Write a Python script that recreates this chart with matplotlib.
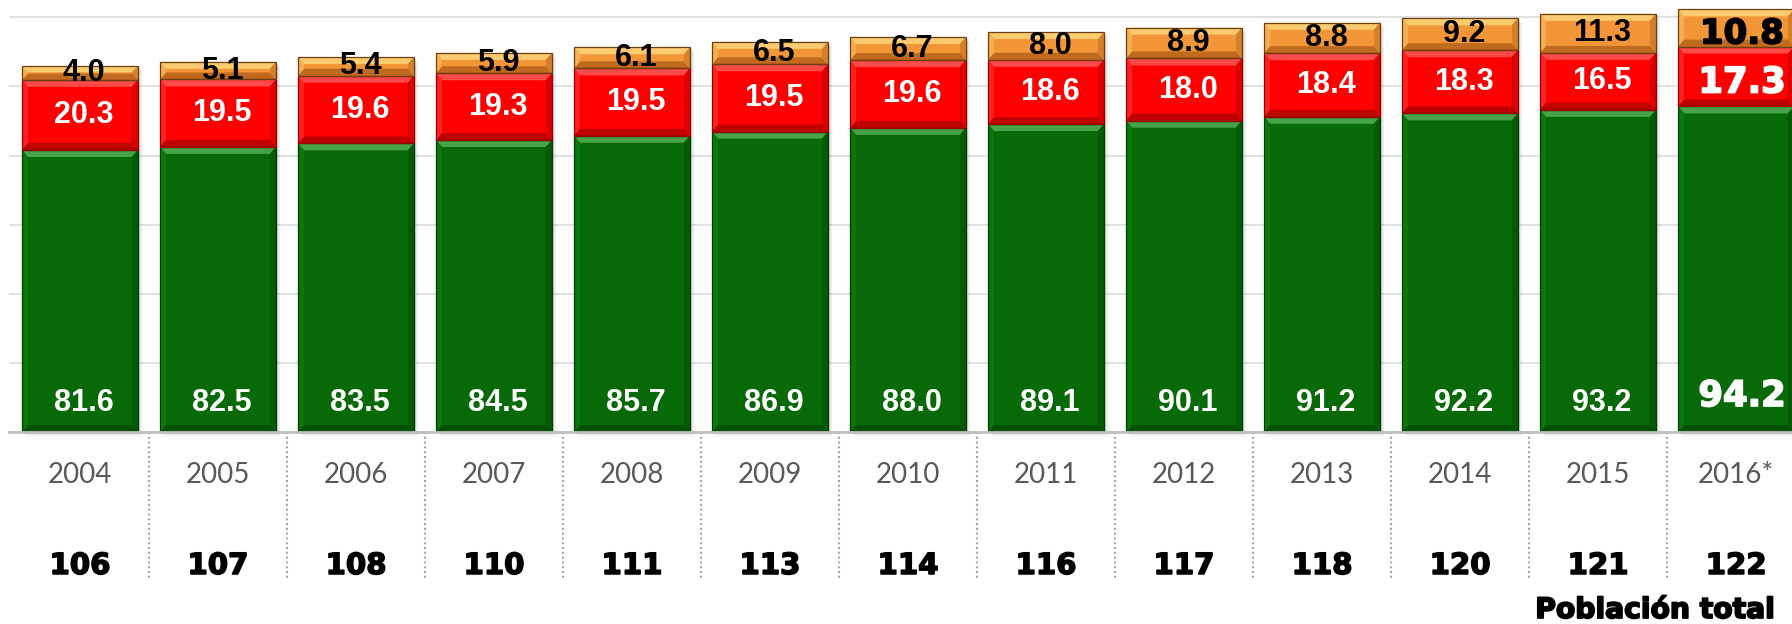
import numpy as np
import matplotlib
matplotlib.use('Agg')
import matplotlib.pyplot as plt
import matplotlib.patheffects as pe
from matplotlib.patches import Polygon, Rectangle

# Datos (millones de personas)
anios = ['2004', '2005', '2006', '2007', '2008', '2009', '2010',
         '2011', '2012', '2013', '2014', '2015', '2016*']
verde = [81.6, 82.5, 83.5, 84.5, 85.7, 86.9, 88.0, 89.1, 90.1, 91.2, 92.2, 93.2, 94.2]
rojo = [20.3, 19.5, 19.6, 19.3, 19.5, 19.5, 19.6, 18.6, 18.0, 18.4, 18.3, 16.5, 17.3]
naranja = [4.0, 5.1, 5.4, 5.9, 6.1, 6.5, 6.7, 8.0, 8.9, 8.8, 9.2, 11.3, 10.8]
poblacion = [106, 107, 108, 110, 111, 113, 114, 116, 117, 118, 120, 121, 122]

W, H = 1792, 624
fig = plt.figure(figsize=(W / 100, H / 100), dpi=100)
ax_l, ax_b, ax_h = 9, 192, 432
ax = fig.add_axes([ax_l / W, ax_b / H, (W - ax_l) / W, ax_h / H])

xmin, xmax = -0.514, 12.406
ymax = 125
ax.set_xlim(xmin, xmax)
ax.set_ylim(0, ymax)

# pixel -> data
px_x = (xmax - xmin) / (W - ax_l)
px_y = ymax / ax_h

x = np.arange(len(anios))
ancho = 0.84
base2 = np.array(verde)
base3 = base2 + np.array(rojo)
total = base3 + np.array(naranja)

# colores: base, arriba, abajo, izq, der, borde
estilos = {
    'verde': ('#076A07', '#48A348', '#045004', '#0C780C', '#055A05', '#033B03'),
    'rojo': ('#FF0000', '#FF4A4A', '#BE0000', '#FF2020', '#DC0000', '#960000'),
    'naranja': ('#F29638', '#FCCB70', '#BF6A1E', '#F7AE52', '#D67F2A', '#6A4010'),
}

# sombra
for k, a in [(4, 0.10), (2, 0.16)]:
    ax.bar(x + k * px_x, total, ancho, bottom=-k * px_y, color='#555555',
           alpha=a, zorder=1.5, clip_on=False, linewidth=0)


def bevel(patch, st):
    x0, y0 = patch.get_xy()
    x1 = x0 + patch.get_width()
    y1 = y0 + patch.get_height()
    bx = 6 * px_x
    by = min(7 * px_y, (y1 - y0) / 2.2)
    caras = [
        ([(x0, y1), (x1, y1), (x1 - bx, y1 - by), (x0 + bx, y1 - by)], st[1]),
        ([(x0, y0), (x1, y0), (x1 - bx, y0 + by), (x0 + bx, y0 + by)], st[2]),
        ([(x0, y0), (x0, y1), (x0 + bx, y1 - by), (x0 + bx, y0 + by)], st[3]),
        ([(x1, y0), (x1, y1), (x1 - bx, y1 - by), (x1 - bx, y0 + by)], st[4]),
    ]
    for pts, c in caras:
        ax.add_patch(Polygon(pts, closed=True, facecolor=c, edgecolor='none', zorder=3.1))
    ax.add_patch(Rectangle((x0, y0), x1 - x0, y1 - y0, facecolor='none',
                           edgecolor=st[5], linewidth=0.9, zorder=3.2))


series = [(verde, 0, 'verde'), (rojo, base2, 'rojo'), (naranja, base3, 'naranja')]
for vals, bottom, nombre in series:
    st = estilos[nombre]
    bars = ax.bar(x, vals, ancho, bottom=bottom, color=st[0], linewidth=0, zorder=3)
    for p in bars:
        bevel(p, st)


def grueso(color, w=1.0):
    # engrosa el trazo para imitar una fuente tipo "Black"
    return [pe.Stroke(linewidth=w, foreground=color), pe.Normal()]


# etiquetas de valores
for i in range(len(anios)):
    ultimo = i == len(anios) - 1
    if ultimo:
        fam, fs, fs_n, dx, dy, gy = 'DejaVu Sans', 25.5, 24.5, 6, -6, 10.4
        ef_b, ef_n = grueso('white', 1.2), grueso('black', 1.2)
    else:
        fam, fs, fs_n, dx, dy, gy = 'Liberation Sans', 22, 22, 4, 0, 8.4
        ef_b, ef_n = None, None
    ax.annotate('%.1f' % verde[i], (x[i], gy),
                xytext=(dx, 0), textcoords='offset pixels', ha='center', va='center',
                color='white', fontsize=fs, fontweight='bold', family=fam, zorder=5,
                path_effects=ef_b)
    ax.annotate('%.1f' % rojo[i], (x[i], base2[i] + rojo[i] / 2),
                xytext=(dx, dy), textcoords='offset pixels', ha='center', va='center',
                color='white', fontsize=fs, fontweight='bold', family=fam, zorder=5,
                path_effects=ef_b)
    ax.annotate('%.1f' % naranja[i], (x[i], base3[i] + naranja[i] / 2),
                xytext=(dx, dy), textcoords='offset pixels', ha='center', va='center',
                color='black', fontsize=fs_n, fontweight='bold', family=fam, zorder=5,
                path_effects=ef_n)

# ejes y rejilla
ax.set_yticks(range(0, 121, 20))
ax.yaxis.grid(True, color='#D9D9D9', linewidth=1.1)
ax.set_axisbelow(True)
ax.tick_params(axis='y', length=0, labelleft=False)
for s in ['left', 'right', 'top']:
    ax.spines[s].set_visible(False)
ax.spines['bottom'].set_color('#BFBFBF')
ax.spines['bottom'].set_linewidth(2)
ax.spines['bottom'].set_zorder(4)

ax.set_xticks(x, anios)
ax.tick_params(axis='x', length=0, pad=31, labelcolor='#595959', labelsize=20)
for lab in ax.get_xticklabels():
    lab.set_va('center')
    lab.set_family('Lato')

trans = ax.get_xaxis_transform()
for b in x[:-1] + 0.5:
    ax.plot([b, b], [0, -148 / ax_h], transform=trans, clip_on=False,
            color='#A6A6A6', linewidth=1.5, linestyle=(0, (1, 1.3)), zorder=1)

for i, p in enumerate(poblacion):
    ax.text(x[i], -134 / ax_h, str(p), transform=trans, ha='center', va='center',
            fontsize=21, fontweight='bold', family='DejaVu Sans', color='black',
            path_effects=grueso('black', 1.1))

fig.text(1776 / W, 1 - 610 / H, 'Población total', ha='right', va='center',
         fontsize=20.3, fontweight='bold', family='DejaVu Sans', color='black',
         path_effects=grueso('black', 1.3))

fig.savefig('out.png', dpi=100)
